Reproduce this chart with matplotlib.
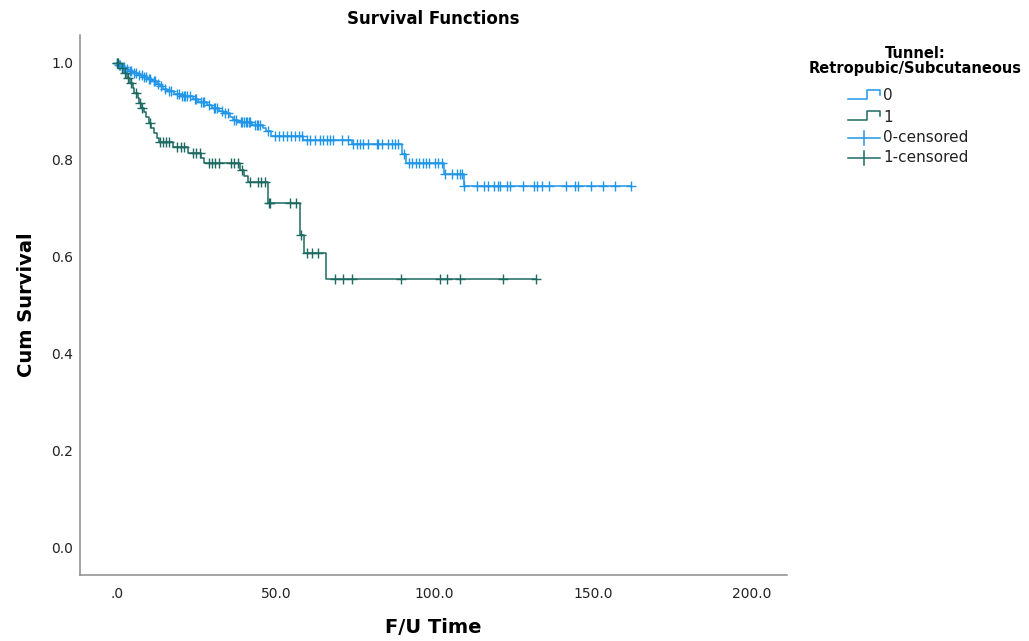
import numpy as np
import matplotlib
matplotlib.use("Agg")
import matplotlib.pyplot as plt
from matplotlib.lines import Line2D

plt.rcParams['font.family'] = ['DejaVu Sans']

# ---- data -------------------------------------------------------------
# group 0 (retropubic): event times and survival after each event
t0_events = [0.3, 1.2, 2.5, 3.5, 5.0, 6.5, 8.0, 9.5, 11.0, 12.5, 13.5, 14.5,
             15.7, 18.0, 20.0, 24.0, 25.5, 28.5, 30.0, 32.0, 33.5, 35.5, 36.5,
             38.0, 42.5, 46.0, 47.0, 48.5, 58.5, 74.0, 89.8, 90.9, 103.0, 109.2]
s0_events = [0.996, 0.992, 0.988, 0.984, 0.979, 0.975, 0.971, 0.967, 0.962,
             0.957, 0.952, 0.947, 0.942, 0.937, 0.932, 0.926, 0.920, 0.913,
             0.907, 0.902, 0.896, 0.889, 0.883, 0.878, 0.872, 0.866, 0.859,
             0.849, 0.841, 0.833, 0.813, 0.793, 0.771, 0.746]
t0_censored = [0.0, 0.5, 1.0, 1.8, 2.3, 3.0, 4.0, 4.5, 5.5, 6.0, 7.0, 7.8, 8.5,
               9.0, 10.0, 10.5, 11.5, 12.0, 13.0, 14.0, 15.0, 16.5, 17.0, 19.0,
               19.5, 20.5, 21.0, 21.5, 22.0, 23.0, 24.5, 25.0, 26.5, 27.0, 27.5,
               29.0, 30.5, 31.0, 31.5, 33.0, 34.0, 35.0, 37.0, 37.5, 39.0, 39.5,
               40.0, 40.5, 41.0, 41.5, 42.0, 43.5, 44.0, 44.5, 45.0, 47.5, 49.8,
               51.0, 52.3, 53.5, 54.8, 56.1, 57.3, 58.2, 59.7, 60.8, 62.4, 63.9,
               65.0, 66.0, 67.1, 68.1, 70.8, 72.9, 74.4, 75.5, 76.5, 77.6, 79.1,
               81.8, 82.3, 83.4, 85.5, 86.5, 87.6, 88.6, 90.4, 92.0, 93.0, 94.1,
               95.2, 96.3, 97.3, 98.4, 100.0, 101.1, 102.2, 103.3, 105.4, 107.0,
               108.1, 108.6, 109.2, 113.5, 115.6, 116.7, 118.8, 119.9, 120.7,
               122.8, 123.7, 128.0, 131.2, 132.3, 133.9, 136.0, 141.4, 144.3,
               145.2, 149.4, 153.2, 156.7, 162.0]

# group 1 (subcutaneous)
t1_events = [1.0, 2.0, 3.0, 4.0, 5.0, 5.5, 6.5, 7.0, 7.5, 8.5, 9.0, 10.0, 10.8,
             11.5, 12.5, 13.3, 17.5, 22.5, 26.5, 27.5, 38.7, 40.0, 41.3, 47.6,
             57.6, 58.8, 65.8]
s1_events = [0.990, 0.980, 0.969, 0.959, 0.948, 0.938, 0.928, 0.918, 0.908,
             0.898, 0.888, 0.877, 0.866, 0.856, 0.846, 0.838, 0.827, 0.815,
             0.805, 0.793, 0.780, 0.768, 0.755, 0.712, 0.645, 0.609, 0.555]
t1_censored = [0.0, 0.3, 1.5, 2.5, 3.5, 4.5, 6.0, 7.2, 8.0, 10.4, 13.5, 14.5,
               15.5, 16.5, 19.0, 20.0, 21.0, 24.0, 25.0, 26.0, 29.0, 30.0, 31.0,
               32.0, 36.0, 37.0, 38.0, 39.3, 42.0, 44.5, 45.5, 46.5, 47.8, 48.3,
               54.5, 56.5, 57.9, 59.8, 61.4, 63.3, 68.7, 71.2, 74.0, 89.4, 101.7,
               103.9, 108.0, 121.6, 132.0]

x_ticks = [0, 50, 100, 150, 200]
x_tick_labels = [".0", "50.0", "100.0", "150.0", "200.0"]
y_ticks = [0.0, 0.2, 0.4, 0.6, 0.8, 1.0]
y_tick_labels = ["0.0", "0.2", "0.4", "0.6", "0.8", "1.0"]

group_labels = ["0", "1"]
color0 = "#2196e8"
color1 = "#1d6a62"


def survival_curve(ev_t, ev_s, censored):
    ev_t = np.asarray(ev_t, float)
    ev_s = np.asarray(ev_s, float)
    end = max(censored)
    t = np.concatenate([[0.0], ev_t, [end]])
    s = np.concatenate([[1.0], ev_s, [ev_s[-1]]])
    levels = np.concatenate([[1.0], ev_s])
    c = np.asarray(censored, float)
    cs = levels[np.searchsorted(ev_t, c, side="right")]
    return t, s, c, cs


fig = plt.figure(figsize=(10.29, 6.41), dpi=100)
ax = fig.add_axes([80 / 1029, 66 / 641, 707 / 1029, 540 / 641])

for ev_t, ev_s, cens, col in [(t0_events, s0_events, t0_censored, color0),
                              (t1_events, s1_events, t1_censored, color1)]:
    t, s, c, cs = survival_curve(ev_t, ev_s, cens)
    ax.step(t, s, where="post", color=col, lw=1.1, zorder=2)
    ax.plot(c, cs, ls="none", marker="+", ms=7.5, mew=1.0, color=col, zorder=3)

ax.set_xlim(-11.65, 211.0)
ax.set_ylim(-0.0557, 1.0577)
ax.set_xticks(x_ticks)
ax.set_xticklabels(x_tick_labels)
ax.set_yticks(y_ticks)
ax.set_yticklabels(y_tick_labels)
ax.tick_params(length=0, labelsize=10, colors="#222222")
ax.tick_params(axis="x", pad=9)
ax.tick_params(axis="y", pad=5)
for side in ["top", "right"]:
    ax.spines[side].set_visible(False)
for side in ["left", "bottom"]:
    ax.spines[side].set_color("#8c8c8c")
    ax.spines[side].set_linewidth(1.1)

ax.set_title("Survival Functions", fontsize=12, fontweight="bold", pad=8)
ax.set_xlabel("F/U Time", fontsize=14, fontweight="bold", labelpad=12)
ax.set_ylabel("Cum Survival", fontsize=14, fontweight="bold", labelpad=11)

# legend drawn in figure pixel coordinates
ov = fig.add_axes([0, 0, 1, 1], facecolor="none")
ov.set_xlim(0, 1029)
ov.set_ylim(641, 0)
ov.axis("off")
ov.text(915, 53, "Tunnel:", ha="center", va="center", fontsize=10.5,
        fontweight="bold")
ov.text(915, 69, "Retropubic/Subcutaneous", ha="center", va="center",
        fontsize=10.5, fontweight="bold")

rows = [(96, color0, "step", group_labels[0]),
        (117, color1, "step", group_labels[1]),
        (138, color0, "cens", group_labels[0] + "-censored"),
        (158, color1, "cens", group_labels[1] + "-censored")]
for y, col, kind, lab in rows:
    if kind == "step":
        ov.add_line(Line2D([848, 867, 867, 880, 880], [y + 3, y + 3, y - 6, y - 6, y - 1],
                           color=col, lw=1.1))
    else:
        ov.add_line(Line2D([848, 880], [y, y], color=col, lw=1.1))
        ov.add_line(Line2D([864, 864], [y - 7, y + 7], color=col, lw=1.1))
    ov.text(883, y, lab, ha="left", va="center", fontsize=11, color="#222222")

fig.savefig("out.png", dpi=100)
